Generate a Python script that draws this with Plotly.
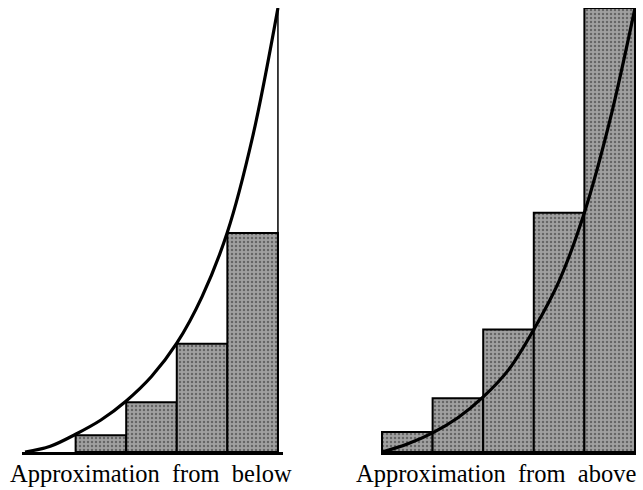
import plotly.graph_objects as go

# ---- data ----
curve_x = [0, 0.5, 1, 1.5, 2, 2.5, 3, 3.5, 4, 4.5, 5]
left_curve_y = [0, 0.013, 0.04, 0.072, 0.115, 0.17, 0.245, 0.35, 0.495, 0.71, 1.0]
right_curve_y = [0, 0.018, 0.043, 0.077, 0.124, 0.185, 0.276, 0.385, 0.539, 0.745, 1.0]

left_bar_x = [1, 2, 3, 4]
left_bar_h = [0.038, 0.112, 0.244, 0.493]
right_bar_x = [0, 1, 2, 3, 4]
right_bar_h = [0.045, 0.121, 0.276, 0.539, 1.0]

left_edge_x = [5, 5]
left_edge_y = [0, 1.0]

labels = ["Approximation\u00a0\u00a0from\u00a0\u00a0below", "Approximation\u00a0\u00a0from\u00a0\u00a0above"]

W, H = 643, 490
BAR_FILL = "#a0a0a0"

fig = go.Figure()

bar_style = dict(
    width=1, offset=0, cliponaxis=False,
    marker=dict(color=BAR_FILL, line=dict(color="black", width=2),
                pattern=dict(shape=".", fgcolor="#2c2c2c", bgcolor=BAR_FILL, size=4, solidity=0.3)),
    showlegend=False, hoverinfo="skip",
)

fig.add_trace(go.Bar(x=left_bar_x, y=left_bar_h, xaxis="x", yaxis="y", **bar_style))
fig.add_trace(go.Scatter(x=left_edge_x, y=left_edge_y, mode="lines", xaxis="x", yaxis="y",
                         line=dict(color="black", width=1.5), cliponaxis=False, showlegend=False))
fig.add_trace(go.Scatter(x=curve_x, y=left_curve_y, mode="lines", xaxis="x", yaxis="y",
                         line=dict(color="black", width=3.2, shape="spline"), cliponaxis=False, showlegend=False))

fig.add_trace(go.Bar(x=right_bar_x, y=right_bar_h, xaxis="x2", yaxis="y2", **bar_style))
fig.add_trace(go.Scatter(x=curve_x, y=right_curve_y, mode="lines", xaxis="x2", yaxis="y2",
                         line=dict(color="black", width=3.2, shape="spline"), cliponaxis=False, showlegend=False))

ybot = (H - 452) / H
ytop = (H - 8) / H

axis_common = dict(showgrid=False, zeroline=False, showticklabels=False, ticks="",
                   showline=True, linecolor="black", linewidth=3, fixedrange=True)
yaxis_common = dict(showgrid=False, zeroline=False, showticklabels=False, ticks="",
                    showline=False, range=[0, 1], domain=[ybot, ytop], fixedrange=True)

fig.update_layout(
    width=W, height=H,
    margin=dict(l=0, r=0, t=0, b=0),
    paper_bgcolor="white", plot_bgcolor="white",
    bargap=0,
    hovermode=False,
    xaxis=dict(domain=[22 / W, 283 / W], range=[-0.06, 5.1], anchor="y", **axis_common),
    yaxis=dict(anchor="x", **yaxis_common),
    xaxis2=dict(domain=[381 / W, 636 / W], range=[-0.02, 5.02], anchor="y2", **axis_common),
    yaxis2=dict(anchor="x2", **yaxis_common),
    annotations=[
        dict(text=labels[0], x=151 / W, y=(H - 473) / H, xref="paper", yref="paper",
             xanchor="center", yanchor="middle", showarrow=False,
             font=dict(family="Liberation Serif", size=24.5, color="black")),
        dict(text=labels[1], x=496 / W, y=(H - 473) / H, xref="paper", yref="paper",
             xanchor="center", yanchor="middle", showarrow=False,
             font=dict(family="Liberation Serif", size=24.5, color="black")),
    ],
)

fig.write_html("out.html", config={"displayModeBar": False, "staticPlot": True},
               post_script="document.body.style.margin='0';document.body.style.overflow='hidden';")
